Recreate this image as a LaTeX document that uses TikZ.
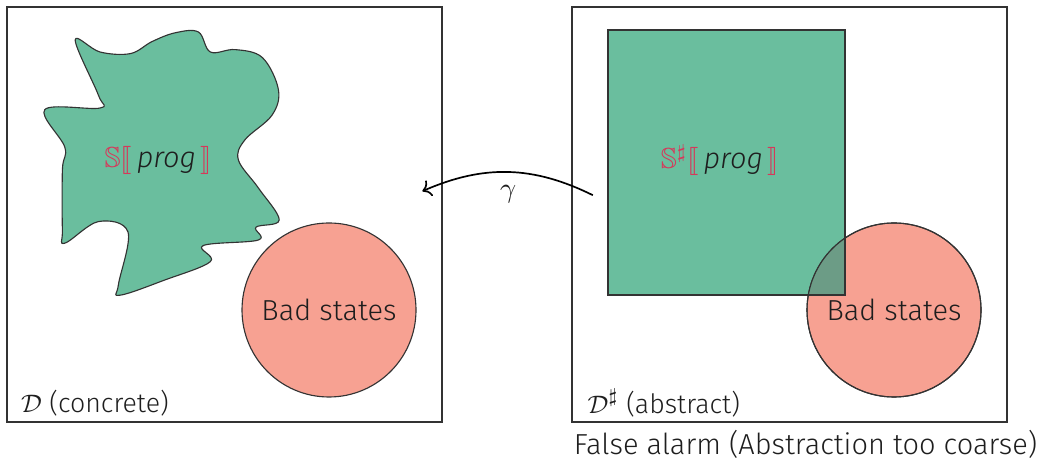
\documentclass[tikz,border=0pt]{standalone}
\usepackage{amssymb}
\usepackage{stmaryrd}
\usepackage{fontspec}
\setmainfont{Fira Sans}[UprightFont={* Light},ItalicFont={* Light Italic}]
\definecolor{mProgGreen}{HTML}{6ABE9E}
\definecolor{mBadPink}{HTML}{F7A192}
\definecolor{mOverlap}{HTML}{6C9C86}
\definecolor{mRed}{HTML}{D6385A}
\definecolor{mEdge}{HTML}{333333}
\definecolor{mText}{HTML}{1E1E1E}
\usetikzlibrary{arrows.meta}

\begin{document}
\begin{tikzpicture}[font=\fontsize{10.3}{12.5}\selectfont, text=mText,
  domainbox/.style={draw=mEdge, line width=0.5pt},
  domainlabel/.style={anchor=west, font=\fontsize{9.5}{11.5}\selectfont},
  outline/.style={draw=mEdge, line width=0.4pt},
  badcircle/.style={circle, outline, fill=mBadPink, minimum size=2.175cm, inner sep=0pt}]
\useasboundingbox (0,0) rectangle (13.025,5.75);
% concrete domain
\draw[domainbox] (0.0875,0.475) rectangle (5.525,5.6625);
\draw[outline, fill=mProgGreen] plot[smooth cycle, tension=0.6] coordinates {
  (0.94,5.25) (1.25,5.10) (1.63,5.08) (1.90,5.23) (2.19,5.34) (2.48,5.35)
  (2.63,5.10) (2.94,5.13) (3.28,5.03) (3.48,4.63) (3.40,4.31) (3.06,4.00)
  (2.98,3.75) (3.23,3.40) (3.49,3.00) (3.20,2.91) (3.23,2.75) (2.54,2.68)
  (2.63,2.48) (2.06,2.25) (1.50,2.06) (1.48,2.19) (1.60,2.85) (1.23,2.98)
  (0.81,2.71) (0.78,2.88) (0.78,3.63) (0.81,3.91) (0.56,4.38) (1.25,4.40)
  (1.23,4.56)};
\node (progL) at (1.98,3.75) {\textcolor{mRed}{$\mathbb{S}\llbracket$}\,\textit{prog}\,\textcolor{mRed}{$\rrbracket$}};
\node[badcircle] (badL) at (4.1125,1.875) {Bad states};
\node[domainlabel] (concrete) at (0.14,0.71) {$\mathcal{D}$ (concrete)};
% abstract domain
\draw[domainbox] (7.15,0.475) rectangle (12.5875,5.6625);
\coordinate (sqA) at (7.6,2.0625);
\coordinate (sqB) at (10.5625,5.375);
\fill[mProgGreen] (sqA) rectangle (sqB);
\node[badcircle] (badR) at (11.175,1.875) {};
\begin{scope}
  \clip (sqA) rectangle (sqB);
  \fill[mOverlap] (badR.center) circle (1.0875);
\end{scope}
\draw[outline] (sqA) rectangle (sqB);
\draw[outline] (badR.center) circle (1.0875);
\node (badRtext) at (badR) {Bad states};
\node (progR) at (9.0,3.75) {\textcolor{mRed}{$\mathbb{S}^\sharp\llbracket$}\,\textit{prog}\,\textcolor{mRed}{$\rrbracket$}};
\node[domainlabel] (abstract) at (7.22,0.71) {$\mathcal{D}^\sharp$ (abstract)};
\node[anchor=west] (alarm) at (7.05,0.19) {False alarm (Abstraction too coarse)};
% concretisation
\coordinate (gamFrom) at (7.41,3.31);
\coordinate (gamTo) at (5.28,3.36);
\draw[-{To}, line width=0.6pt] (gamFrom) to[bend right=25] node[below=1pt] (gam) {$\gamma$} (gamTo);
\end{tikzpicture}
\end{document}
